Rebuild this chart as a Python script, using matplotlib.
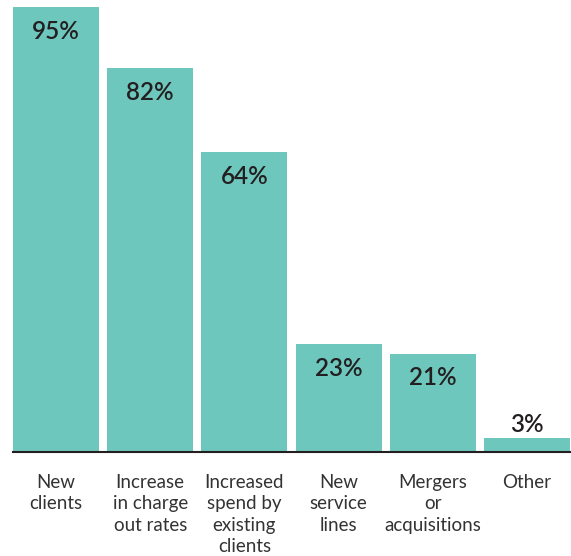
import matplotlib
matplotlib.use("Agg")
import matplotlib.pyplot as plt

categories = ["New\nclients", "Increase\nin charge\nout rates", "Increased\nspend by\nexisting\nclients",
              "New\nservice\nlines", "Mergers\nor\nacquisitions", "Other"]
values = [95, 82, 64, 23, 21, 3]
value_labels = ["95%", "82%", "64%", "23%", "21%", "3%"]

plt.rcParams["font.family"] = ["Lato", "DejaVu Sans"]

W, H, DPI = 571, 556, 100
fig = plt.figure(figsize=(W / DPI, H / DPI), dpi=DPI)
ax = fig.add_axes([13 / W, (H - 452) / H, 557 / W, 445 / H])

bar_w = 0.913
x = range(len(values))
bars = ax.bar(x, values, width=bar_w, color="#6EC7BC", zorder=2)

ax.set_xlim(-bar_w / 2, len(values) - 1 + bar_w / 2)
ax.set_ylim(0, max(values))

for rect, v, lab in zip(bars, values, value_labels):
    cx = rect.get_x() + rect.get_width() / 2
    dy = -17.5 if v > 10 else 10
    ax.annotate(lab, (cx, v), xytext=(0, dy), textcoords="offset points",
                ha="center", va="center", fontsize=17.5, fontweight="semibold",
                color="#231F20")

ax.set_xticks(list(x))
ax.set_xticklabels(categories, fontsize=13.5, color="#333333", linespacing=1.3)
ax.tick_params(axis="x", length=0, pad=16)
ax.set_yticks([])

for s in ["top", "right", "left"]:
    ax.spines[s].set_visible(False)
ax.spines["bottom"].set_color("#231F20")
ax.spines["bottom"].set_linewidth(1.5)
ax.spines["bottom"].set_zorder(3)

fig.savefig("out.png", dpi=DPI)
